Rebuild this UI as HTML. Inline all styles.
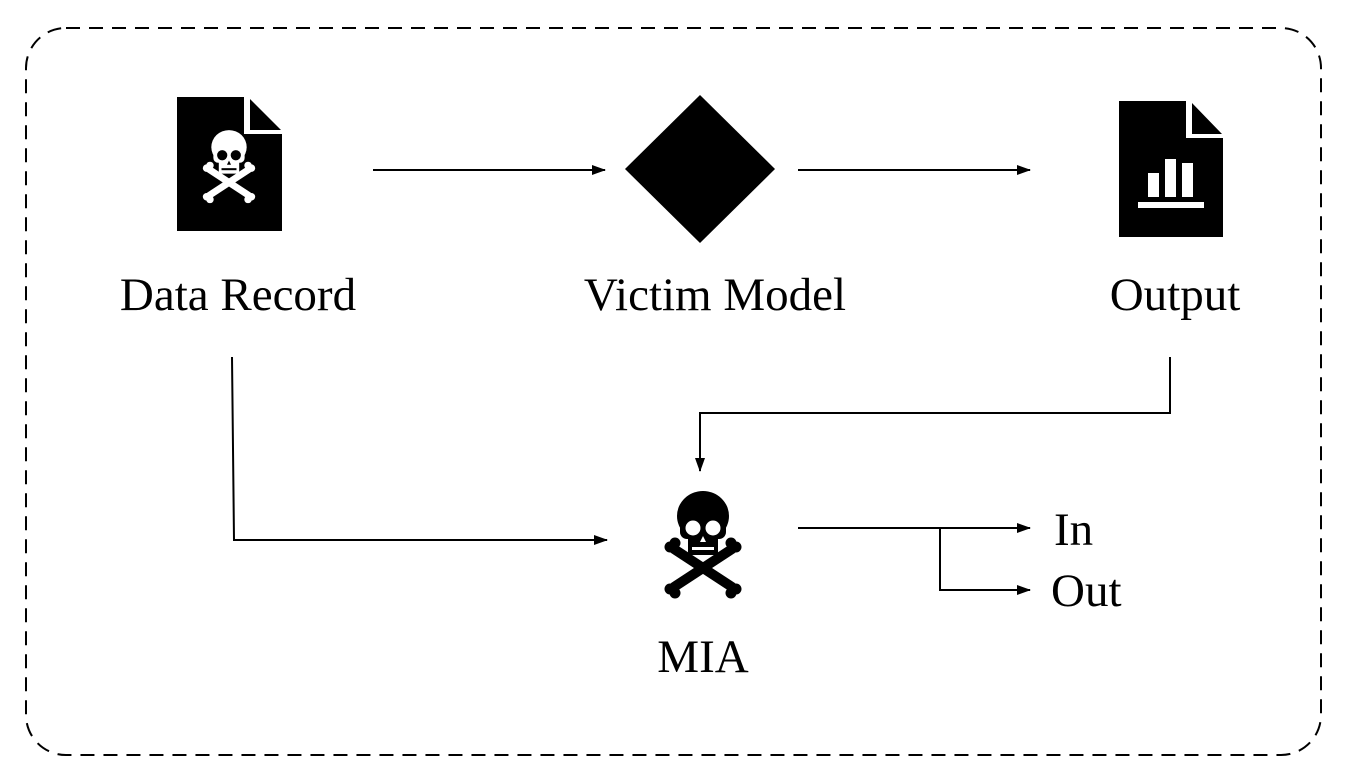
<!DOCTYPE html>
<html><head><meta charset="utf-8"><style>
html,body{margin:0;padding:0;background:#fff;}
svg{display:block;}
text{font-family:"Liberation Serif",serif;font-size:47px;fill:#000;}
</style></head><body>
<svg width="1350" height="783" viewBox="0 0 1350 783" xmlns="http://www.w3.org/2000/svg">
<defs>
<marker id="ah" markerWidth="14" markerHeight="10" refX="13" refY="5" orient="auto" markerUnits="userSpaceOnUse">
<path d="M0,0 L14,5 L0,10 Z" fill="#000"/>
</marker>
<symbol id="skull" overflow="visible">
<g style="fill:var(--fg);stroke:var(--fg)">
<line x1="-29" y1="14" x2="29" y2="52" stroke-width="10" stroke-linecap="round"/>
<line x1="29" y1="14" x2="-29" y2="52" stroke-width="10" stroke-linecap="round"/>
<circle cx="-33" cy="12" r="5.5" stroke="none"/><circle cx="-28" cy="8" r="5.5" stroke="none"/>
<circle cx="33" cy="12" r="5.5" stroke="none"/><circle cx="28" cy="8" r="5.5" stroke="none"/>
<circle cx="-33" cy="54" r="5.5" stroke="none"/><circle cx="-28" cy="58" r="5.5" stroke="none"/>
<circle cx="33" cy="54" r="5.5" stroke="none"/><circle cx="28" cy="58" r="5.5" stroke="none"/>
<ellipse cx="0" cy="-19" rx="26" ry="25" stroke="none"/>
<rect x="-23" y="-20" width="46" height="24" rx="7" stroke="none"/>
<rect x="-15" y="0" width="30" height="20" rx="3" stroke="none"/>
</g>
<g style="fill:var(--bg)">
<circle cx="-10" cy="-7" r="7.5"/><circle cx="10" cy="-7" r="7.5"/>
<path d="M0,1 L-3,7 L3,7 Z"/>
<rect x="-11" y="12" width="22" height="3"/>
</g>
</symbol>
</defs>
<rect x="26" y="28" width="1295" height="727" rx="40" ry="40" fill="none" stroke="#000" stroke-width="2" stroke-dasharray="14,9"/>

<path d="M177,97 H244 V134 H282 V231 H177 Z" fill="#000"/>
<path d="M250,99 L281,130 L250,130 Z" fill="#000"/>
<g style="--fg:#fff;--bg:#000" transform="translate(229,160) scale(0.68)"><use href="#skull"/></g>

<path d="M700,95 L775,169 L700,243 L625,169 Z" fill="#000"/>

<path d="M1119,101 H1186 V138 H1223 V237 H1119 Z" fill="#000"/>
<path d="M1192,103 L1222,134 L1192,134 Z" fill="#000"/>
<rect x="1148" y="173" width="11" height="24" fill="#fff"/>
<rect x="1165" y="159" width="11" height="38" fill="#fff"/>
<rect x="1182" y="163" width="11" height="34" fill="#fff"/>
<rect x="1138" y="202" width="66" height="6" fill="#fff"/>

<g style="--fg:#000;--bg:#fff" transform="translate(703,535)"><use href="#skull"/></g>

<g stroke="#000" stroke-width="2" fill="none">
<line x1="373" y1="170" x2="605" y2="170" marker-end="url(#ah)"/>
<line x1="798" y1="170" x2="1030" y2="170" marker-end="url(#ah)"/>
<polyline points="1170,357 1170,413 700,413 700,471" marker-end="url(#ah)"/>
<polyline points="232,357 234,540 607,540" marker-end="url(#ah)"/>
<line x1="798" y1="528" x2="1030" y2="528" marker-end="url(#ah)"/>
<polyline points="940,528 940,590 1030,590" marker-end="url(#ah)"/>
</g>

<text x="238" y="310" text-anchor="middle">Data Record</text>
<text x="715" y="310" text-anchor="middle">Victim Model</text>
<text x="1175" y="310" text-anchor="middle">Output</text>
<text x="703" y="672" text-anchor="middle">MIA</text>
<text x="1054" y="545">In</text>
<text x="1051" y="606">Out</text>
</svg>
</body></html>
